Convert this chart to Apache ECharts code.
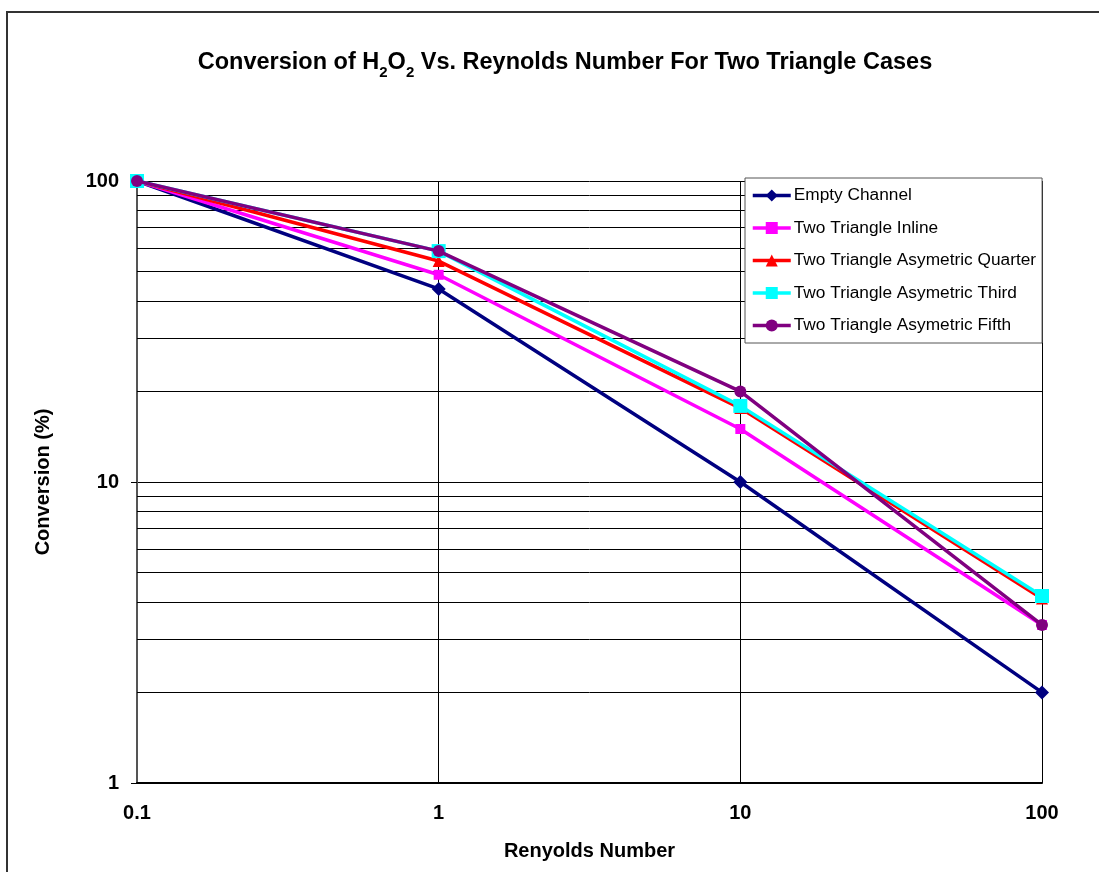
<!DOCTYPE html>
<html>
<head>
<meta charset="utf-8">
<script src="https://cdn.jsdelivr.net/npm/echarts@6/dist/echarts.min.js"></script>
<style>html,body{margin:0;padding:0;background:#fff}#c{width:1099px;height:872px}</style>
</head>
<body>
<div id="c"></div>
<script>
var reynolds = [0.1, 1, 10, 100];
var seriesNames = ['Empty Channel', 'Two Triangle Inline', 'Two Triangle Asymetric Quarter', 'Two Triangle Asymetric Third', 'Two Triangle Asymetric Fifth'];
var emptyChannel = [100, 43.8, 10, 2.0];
var inline = [100, 48.8, 15.0, 3.35];
var quarter = [100, 54.2, 17.6, 4.1];
var third = [100, 58.5, 17.9, 4.18];
var fifth = [100, 58.5, 20.0, 3.35];
var xTicks = [0.1, 1, 10, 100];
var yTicks = [1, 10, 100];
var minorY = [2, 3, 4, 5, 6, 7, 8, 9, 20, 30, 40, 50, 60, 70, 80, 90];

var colors = ['#000080', '#FF00FF', '#FF0000', '#00FFFF', '#800080'];
var symbols = ['diamond', 'rect', 'triangle', 'rect', 'circle'];
var sizes = [14, 10, 12, 14, 12];
var values = [emptyChannel, inline, quarter, third, fifth];

function pairs(v) { return reynolds.map(function (x, i) { return [x, v[i]]; }); }

var series = [{
  name: 'grid', type: 'line', data: [[0.1, 100]], symbol: 'none', silent: true, z: 1,
  lineStyle: { width: 0 },
  markLine: {
    silent: true, symbol: 'none', label: { show: false }, animation: false, z: 1,
    lineStyle: { color: '#000', width: 1, type: 'solid' },
    data: minorY.map(function (y) { return { yAxis: y }; })
  }
}];
seriesNames.forEach(function (n, i) {
  series.push({
    name: n, type: 'line', data: pairs(values[i]), z: 3 + i,
    symbol: symbols[i], symbolSize: sizes[i],
    itemStyle: { color: colors[i] },
    lineStyle: { color: colors[i], width: 3.5 },
    animation: false
  });
});

var chart = echarts.init(document.getElementById('c'), null, { renderer: 'canvas' });
chart.setOption({
  backgroundColor: '#fff',
  animation: false,
  graphic: [{ type: 'rect', shape: { x: 7, y: 12, width: 1200, height: 1000 }, style: { fill: 'none', stroke: '#333', lineWidth: 2 }, z: 0, silent: true }],
  title: {
    text: '{t|Conversion of H}{s|2}{t|O}{s|2}{t| Vs. Reynolds Number For Two Triangle Cases}',
    left: 560, top: 43, textAlign: 'center',
    textStyle: {
      rich: {
        t: { fontFamily: 'Liberation Sans, Arial', fontWeight: 'bold', fontSize: 23.5, color: '#000', verticalAlign: 'bottom', lineHeight: 27 },
        s: { fontFamily: 'Liberation Sans, Arial', fontWeight: 'bold', fontSize: 15, color: '#000', verticalAlign: 'bottom', lineHeight: 20, padding: [0, 0, -5, 0] }
      }
    }
  },
  legend: {
    orient: 'vertical', left: 745, top: 178, z: 20,
    data: seriesNames,
    backgroundColor: '#fff', borderColor: '#555', borderWidth: 1,
    padding: [9, 6, 9, 6], itemGap: 15.5, itemWidth: 38, itemHeight: 15,
    lineStyle: { width: 3.5 },
    textStyle: { fontFamily: 'Liberation Sans, Arial', fontSize: 17.3, color: '#000', padding: [0, 0, 0, -2] }
  },
  grid: { left: 137, right: 57, top: 181, bottom: 89, containLabel: false },
  xAxis: {
    type: 'log', logBase: 10, min: 0.1, max: 100,
    name: 'Renyolds Number', nameLocation: 'middle', nameGap: 58,
    nameTextStyle: { fontFamily: 'Liberation Sans, Arial', fontWeight: 'bold', fontSize: 20, color: '#000' },
    axisLine: { show: true, lineStyle: { color: '#000', width: 2 } },
    axisTick: { show: false },
    axisLabel: {
      fontFamily: 'Liberation Sans, Arial', fontWeight: 'bold', fontSize: 20, color: '#000', margin: 20,
      formatter: function (v) { return xTicks.indexOf(+v.toPrecision(6)) >= 0 ? String(+v.toPrecision(6)) : ''; }
    },
    splitLine: { show: true, lineStyle: { color: '#000', width: 1 } }
  },
  yAxis: {
    type: 'log', logBase: 10, min: 1, max: 100,
    name: 'Conversion (%)', nameLocation: 'middle', nameGap: 84, nameRotate: 90,
    nameTextStyle: { fontFamily: 'Liberation Sans, Arial', fontWeight: 'bold', fontSize: 20, color: '#000' },
    axisLine: { show: true, lineStyle: { color: '#555', width: 2 } },
    axisTick: { show: true, length: 6, inside: false, lineStyle: { color: '#000' } },
    axisLabel: {
      fontFamily: 'Liberation Sans, Arial', fontWeight: 'bold', fontSize: 20, color: '#000', margin: 18,
      formatter: function (v) { return yTicks.indexOf(+v.toPrecision(6)) >= 0 ? String(+v.toPrecision(6)) : ''; }
    },
    splitLine: { show: true, lineStyle: { color: '#000', width: 1 } }
  },
  series: series
});
</script>
</body>
</html>
